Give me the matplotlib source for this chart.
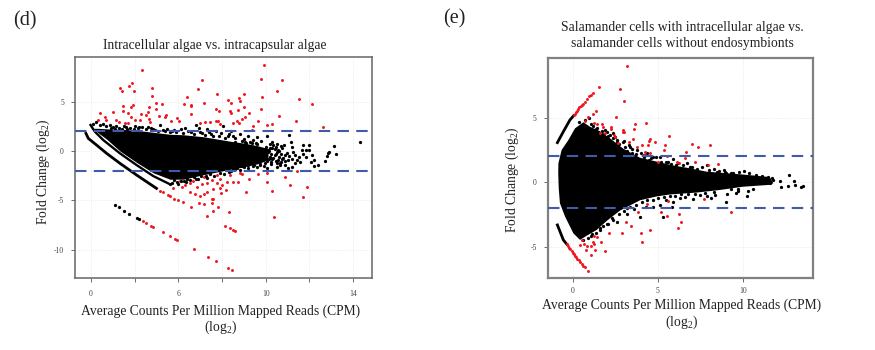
import matplotlib
matplotlib.use('Agg')
import matplotlib.pyplot as plt

plt.rcParams['font.family'] = ['Liberation Serif', 'DejaVu Serif']
plt.rcParams['mathtext.fontset'] = 'custom'
plt.rcParams['mathtext.rm'] = 'Liberation Serif'

# panel d : dense part of the cloud, upper and lower edge
d_core_x = [0.15, 0.33, 0.72, 1.33, 2.09, 2.85, 3.61, 4.22, 5.14, 6.36, 7.0, 7.6, 8.1]
d_core_up = [2.3, 2.3, 2.25, 2.2, 2.1, 1.9, 1.7, 1.65, 1.45, 1.0, 0.8, 0.55, 0.25]
d_core_lo = [2.2, 1.85, 1.2, 0.0, -1.15, -2.2, -2.85, -2.85, -2.4, -1.85, -1.6, -1.3, -0.9]

# panel d : the two curved stripes under the cloud
d_band1_x = [-0.23, -0.12, 0.26, 0.72, 1.33, 2.09, 3.0]
d_band1_y = [1.79, 1.28, 0.60, -0.24, -1.25, -2.43, -3.78]
d_band2_x = [-0.02, 0.18, 0.56, 1.33, 2.09, 2.85, 3.54]
d_band2_y = [2.64, 1.96, 1.12, -0.24, -1.42, -2.53, -3.28]

d_black_x = [0.25, 0.1, 0.4, 0.55, 0.7, 0.85, 1.0, 1.15, 1.3, 1.5, 1.65, 1.8, 2.0, 2.15, 2.35, 2.5, 2.75, 2.95, 3.15, 3.3,
             3.5, 3.7, 3.9, 4.1, 4.3, 4.45, 4.6, 4.8, 4.95, 5.1, 5.3, 5.5, 5.7, 5.85, 6.05, 6.25, 6.4, 6.6, 6.8, 7.0,
             7.2, 7.4, 7.6, 7.8, 8.05, 8.3, 8.5,
             12.33, 11.14, 11.23, 10.9, 10.83, 10.78, 10.69, 10.4, 10.22, 10.22, 10.05, 10.0, 9.96, 9.69, 9.84, 9.64, 10.1, 9.5, 9.34, 9.56,
             9.34, 9.18, 9.03, 9.08, 9.15, 9.18, 8.76, 8.88, 8.63, 8.88, 9.03, 8.7, 8.5, 8.3, 8.1, 8.4, 8.6, 8.2, 8.0, 8.45,
             8.25, 8.05, 8.55, 8.35, 8.15, 7.95, 8.75, 8.5, 8.3, 7.9, 8.05, 8.65, 7.75, 7.6, 7.4, 7.2, 7.0, 6.8, 6.6, 6.4,
             7.55, 7.3, 7.85, 8.2, 8.45, 7.05, 3.8, 3.95, 3.7, 4.1, 4.25, 4.4, 4.55, 4.7, 4.9, 5.05, 5.25, 5.45, 5.65, 5.9, 6.1, 6.3,
             6.6, 6.9, 7.1, 7.35, 7.15, 7.4, 7.6, 7.7, 7.5, 7.25, 7.45, 7.7, 7.85, 8.0, 8.1, 7.65, 7.4, 7.2, 7.55, 7.3,
             7.05, 7.8, 8.0, 8.15, 7.95, 7.75, 7.45, 7.2, 6.9, 6.7, 6.5, 8.25, 8.35, 8.45, 8.55, 8.6, 8.4, 8.2, 8.7, 8.8,
             8.95, 9.05, 8.9, 8.7, 8.5, 8.25, 9.2, 9.45, 9.7, 9.85, 9.25, 8.85,
             3.6, 4.0, 4.35, 4.8, 5.3,
             0.9, 1.1, 1.4, 1.6, 1.95, 2.2, 2.6, 2.85, 3.05, 3.4, 3.6, 3.8, 4.2, 4.7, 5.0, 5.2, 5.4, 5.6, 5.95, 6.15, 6.3, 6.5]
d_black_y = [2.9, 2.7, 2.6, 2.75, 2.5, 2.6, 2.4, 2.55, 2.35, 2.5, 2.25, 2.35, 2.5, 2.3, 2.4, 2.2, 2.3, 2.1, 2.6, 2.15,
             2.25, 2.0, 1.95, 2.2, 2.35, 2.05, 1.9, 2.6, 2.3, 1.8, 2.2, 1.75, 2.0, 1.55, 2.5, 1.5, 2.0, 1.35, 1.7, 1.2,
             1.5, 1.1, 1.4, 1.0, 1.55, 0.95, 0.75,
             0.95, 0.47, -0.30, -0.07, -0.24, -0.47, -1.05, -1.45, -1.56, -0.91, -1.15, 0.10, 0.64, 0.57, 0.10, 0.10, -0.4, -0.57, -0.4, -1.08,
             -1.25, -1.58, -1.75, 1.62, 0.95, 0.37, 0.27, -0.4, -1.42, -1.42, -0.9, 0.55, -0.1, 0.35, 0.15, -0.35, -0.65, -0.6, -0.2, -1.0,
             -1.3, -1.05, 0.1, 0.6, 0.05, 0.2, -0.85, -1.6, -0.85, -1.5, -1.7, -1.2, -1.35, -1.6, -1.55, -1.75, -1.65, -1.9, -1.8, -2.0,
             0.85, 0.95, -0.75, 0.75, 0.4, 0.9, -2.95, -3.1, -3.2, -3.0, -3.05, -2.85, -2.95, -2.6, -2.8, -2.5, -2.55, -2.35, -2.5, -2.2, -2.3, -2.15,
             0.9, 1.05, 0.85, 0.8, 0.5, 0.45, 0.7, 0.35, 0.1, -0.1, -0.35, -0.1, 0.2, 0.45, -0.05, -0.55, -0.8, -0.55, -1.0, -1.2,
             -1.05, -0.85, -0.4, -0.8, -1.25, -1.45, -1.4, -1.45, -1.55, -1.7, -1.85, -0.3, -0.7, -0.25, -0.9, 0.0, 0.25, 0.35, -0.3, -0.7,
             -0.2, -0.55, -1.05, -1.1, -1.25, -1.15, -0.85, -0.95, -0.3, -0.65, -0.1, 0.6,
             -3.3, -3.3, -3.15, -2.85, -2.7,
             2.3, 2.25, 2.2, 2.45, 2.2, 2.45, 2.4, 2.2, 2.05, 2.05, 1.9, 2.15, 1.85, 1.75, 1.95, 1.65, 1.9, 1.55, 1.8, 1.3, 1.7, 1.5]
d_tail_x = [1.10, 1.30, 1.51, 1.76, 2.09, 2.18]
d_tail_y = [-5.44, -5.68, -6.05, -6.35, -6.79, -6.86]

d_red_x = [2.32, 7.92, 7.79, 8.72, 5.10, 1.89, 1.76, 1.34, 1.44, 1.98, 2.79, 2.79, 4.92, 8.53, 5.79, 6.99, 4.40, 4.27, 4.56, 4.56,
           5.19, 6.26, 6.40, 6.76, 6.82, 7.82, 9.51, 10.11, 1.48, 1.82, 1.94, 2.64, 2.96, 3.25, 2.96, 2.63, 5.73, 5.88, 6.37, 6.43,
           6.72, 7.02, 7.76, 0.41, 1.02, 1.45, 1.71, 1.83, 2.29, 2.52, 0.64, 0.32, 0.69, 1.16, 1.30, 1.56, 1.71, 2.02, 2.24, 2.66,
           2.70, 3.11, 3.39, 3.44, 3.65, 3.96, 4.05, 4.56, 4.99, 5.22, 5.45, 5.73, 5.83, 5.91, 6.52, 6.67, 6.76, 7.21, 6.90, 7.05,
           7.63, 8.05, 8.27, 8.60, 9.39, 10.64, 7.40, 7.36,
           2.37, 2.52, 2.75, 2.82, 3.30, 3.62, 3.83, 3.95, 4.73, 5.36, 5.71, 6.27, 6.44, 5.33, 6.32, 5.60, 6.12, 6.35, 6.52, 6.60,
           8.38, 8.29, 9.13, 9.71, 9.88, 7.08, 4.58, 4.20, 4.0, 4.96, 5.15, 5.83, 5.53, 5.60, 5.53, 3.16, 3.31, 3.51, 3.62, 3.80,
           3.77, 4.15, 4.31, 4.53, 4.69, 4.84, 5.07, 5.30, 5.53, 5.76, 5.91, 5.98, 6.21, 6.37, 6.52, 6.75, 7.21, 4.53, 4.76, 4.99,
           5.18, 5.30, 5.60, 5.94, 5.91, 6.18, 4.08, 4.38, 5.15, 5.76, 6.82, 6.90, 7.66, 8.05, 8.05, 8.89, 9.42]
d_red_y = [8.21, 8.68, 7.33, 7.16, 7.20, 6.89, 6.59, 6.35, 6.11, 6.11, 6.42, 5.57, 6.25, 6.11, 5.78, 5.78, 5.44, 4.73, 4.66, 4.53,
           4.83, 5.17, 4.90, 5.34, 5.07, 5.44, 5.30, 4.76, 4.56, 4.49, 4.66, 4.49, 4.83, 4.80, 4.26, 3.99, 4.22, 4.05, 4.02, 3.89,
           4.12, 4.43, 4.22, 3.89, 3.95, 4.05, 3.82, 3.48, 3.75, 3.68, 3.41, 3.14, 3.14, 3.14, 2.97, 2.80, 2.80, 3.14, 3.14, 3.21,
           2.97, 3.55, 3.48, 3.65, 3.07, 3.38, 3.07, 3.72, 2.87, 2.91, 2.91, 3.07, 3.07, 2.74, 2.80, 3.07, 2.80, 3.82, 3.21, 3.41,
           3.07, 2.64, 2.74, 3.58, 3.07, 2.47, 2.53, 2.13,
           -7.13, -7.30, -7.57, -7.64, -8.24, -8.61, -8.89, -9.02, -9.93, -10.71, -11.12, -11.82, -12.0, -6.62, -6.22, -6.05, -7.57, -7.80, -8.04, -8.11,
           -6.72, -4.02, -3.48, -4.66, -3.68, -4.19, -5.71, -5.20, -4.97, -5.24, -5.41, -5.64, -4.90, -4.90, -5.30, -4.02, -4.16, -4.46, -4.53, -4.83,
           -3.78, -3.62, -3.45, -3.21, -3.04, -3.62, -3.34, -3.21, -2.94, -3.21, -2.87, -3.45, -3.11, -2.43, -3.11, -3.11, -2.87, -4.12, -4.36, -4.56,
           -4.36, -4.12, -3.89, -4.22, -3.78, -3.95, -3.0, -2.78, -2.6, -2.43, -2.26, -2.33, -2.33, -2.2, -3.11, -2.6, -2.03]

# panel e : outline of the solid black cloud, clockwise from the left
e_cloud_x = [-0.84, -0.65, -0.25, 0.14, 0.63, 1.02, 1.61, 2.2, 2.98, 3.96, 4.94, 5.92, 6.9, 7.88, 10.0, 11.6, 11.8,
             11.6, 10.0, 8.66, 7.3, 5.72, 4.94, 3.96, 2.78, 2.0, 1.41, 0.82, 0.43, 0.04, -0.45, -0.75, -0.82, -0.85]
e_cloud_y = [1.47, 2.5, 3.28, 4.18, 4.65, 4.3, 3.95, 3.4, 2.6, 1.9, 1.6, 1.3, 1.08, 0.82, 0.6, 0.4, -0.08,
             -0.2, -0.35, -0.6, -0.8, -0.95, -1.1, -1.4, -2.2, -3.0, -3.7, -4.15, -4.47, -3.96, -2.66, -1.63, -0.5, 0.7]

e_up_x = [-0.9, -0.55, -0.16, 0.05]
e_up_y = [3.07, 3.92, 4.83, 5.15]
e_lo_x = [-0.9, -0.55, -0.35]
e_lo_y = [-3.31, -4.47, -4.8]

e_black_x = [12.2, 12.75, 13.04, 13.08, 12.65, 12.24, 13.41, 13.57, 10.24, 9.02, 9.75, 8.12, 11.12, 11.8, 11.5, 11.7, 11.31, 11.6,
             3.96, 2.59, 5.33, 4.75, 5.14, 5.92, 5.82, 6.61, 7.49, 10.08, 9.45, 8.63, 8.96, 7.88, 7.6, 6.71, 5.92, 5.14, 4.75, 3.76,
             3.37, 2.94, 2.39, 2.0, 1.41, 0.98, 4.4, 3.3, 3.0, 2.5, 1.9, 2.2, 2.6, 3.5, 4.2, 4.5, 5.5, 6.2, 6.9, 8.3, 8.9, 9.3, 9.8,
             10.4, 10.8, 10.6, 10.3, 9.6, 9.1, 8.4, 7.9, 7.1, 6.3, 5.5, 4.3, 3.6, 3.2, 2.4, 2.0, 1.6, 1.1,
             0.4, 0.75, 1.05, 1.2, 1.35, 1.7, 1.85, 2.1, 2.35, 2.6, 2.75, 3.1, 3.2, 3.5, 3.7, 4.0, 4.2, 4.6, 4.9, 5.2, 5.6, 5.8, 6.1, 6.5, 7.0, 7.3, 8.0, 8.5, 9.0,
             0.6, 0.9, 1.15, 1.35, 1.6, 1.8, 2.1, 2.3, 2.7, 3.0, 3.2, 3.4, 3.7, 4.1, 4.4, 4.7, 5.0, 5.4, 5.7, 6.0, 6.4, 6.8, 7.2, 7.8, 8.3, 9.3, 9.7]
e_black_y = [0.1, 0.54, 0.13, -0.21, -0.29, -0.34, -0.39, -0.26, -1.04, -1.56, -0.65, -1.24, 0.49, 0.18, 0.43, 0.3, -0.08, -0.03,
             -2.66, -3.05, -2.66, -1.89, -1.76, -1.5, -1.89, -1.11, -0.98, 0.9, 0.75, 0.9, 0.82, 1.34, 1.15, 1.47, 1.78, 1.93, 1.99, 2.5,
             2.76, 3.15, 3.79, 3.92, 4.18, 4.96, 2.3, 2.9, 3.2, 3.5, 4.05, 3.7, 3.3, 2.6, 2.1, 1.75, 1.6, 1.5, 1.2, 1.05, 0.95, 0.7, 0.8,
             0.75, 0.55, -0.5, -0.65, -0.8, -0.95, -1.0, -1.1, -1.3, -1.25, -1.4, -1.9, -2.1, -2.5, -2.9, -3.2, -3.7, -4.2,
             4.7, 4.85, 4.5, 4.35, 4.1, 4.0, 3.75, 3.6, 3.45, 3.1, 2.95, 2.75, 2.45, 2.3, 2.15, 2.25, 1.95, 1.85, 1.95, 1.6, 1.55, 1.45, 1.35, 1.3, 1.2, 1.05, 0.95, 0.8, 0.75,
             -4.45, -4.3, -4.05, -3.95, -3.55, -3.4, -3.2, -2.8, -2.5, -2.2, -2.0, -1.9, -1.75, -1.55, -1.4, -1.35, -1.2, -1.15, -1.05, -1.1, -0.95, -0.95, -0.9, -0.8, -0.75, -0.55, -0.5]

e_red_x = [3.22, 1.57, 2.80, 3.04, 1.37, 1.22, 0.92, 2.55, 0.73, 1.27, 1.41, 1.75, 1.80, 2.27, 2.25, 4.29, 3.65, 3.63, 2.96, 2.94,
           3.02, 1.61, 1.9, 2.41, 2.49, 5.65, 4.55, 4.49, 3.53, 3.33, 4.84, 2.67, 4.10, 4.43, 3.78, 5.45, 5.39, 7.04, 7.39, 8.1,
           6.65, 4.25, 4.55, 4.22, 5.53, 6.61, 6.12, 6.24, 7.18, 7.98, 8.53, 5.04,
           9.31, 7.75, 4.35, 5.63, 3.86, 5.2, 5.57, 6.27, 6.39, 6.18, 3.14, 3.43, 2.16, 2.9, 4.02, 4.53, 4.1, 1.65, 1.92, 1.31,
           1.08, 0.76, 0.82, 1.06, 0.43, 0.67, 1.25, 1.45, 1.27, 0.57, 1.22,
           0.05, 0.12, 0.2, 0.27, 0.33, 0.4, 0.47, 0.55, 0.63, 0.72, 0.82, 0.95, 1.05, 1.18,
           -0.35, -0.28, -0.2, -0.13, -0.05, 0.02, 0.08, 0.15, 0.22, 0.28, 0.35, 0.43, 0.52, 0.62, 0.72, 0.88]
e_red_y = [9.02, 7.36, 7.21, 6.33, 5.53, 5.3, 5.03, 5.06, 4.75, 4.57, 4.52, 4.52, 4.26, 4.31, 4.13, 4.57, 4.49, 4.11, 4.05, 3.87,
           3.9, 3.85, 3.85, 3.67, 3.54, 3.58, 3.35, 3.22, 3.35, 3.15, 3.15, 3.02, 2.86, 2.89, 2.76, 2.86, 2.47, 2.94, 2.71, 2.86,
           2.36, 2.37, 2.3, 2.11, 2.06, 1.86, 1.6, 1.47, 1.55, 1.34, 1.41, 1.55,
           -2.28, -1.29, -1.71, -1.45, -2.3, -2.33, -2.59, -2.43, -3.08, -3.54, -3.1, -3.36, -3.93, -3.93, -3.96, -3.72, -4.6, -4.65, -5.33, -5.25,
           -5.61, -5.25, -4.94, -4.94, -4.86, -4.78, -4.78, -4.21, -4.14, -4.47, -4.6,
           5.2, 5.32, 5.45, 5.55, 5.65, 5.8, 5.9, 5.98, 6.05, 6.25, 6.45, 6.65, 6.8, 6.9,
           -4.8, -4.95, -5.1, -5.2, -5.35, -5.5, -5.6, -5.7, -5.8, -5.95, -6.05, -6.2, -6.35, -6.5, -6.6, -6.85]

d_xticks = [0, 2, 4, 6, 8, 10, 12]
d_xlabels = ['0', '', '6', '', '10', '', '14']
d_yticks = [5, 0, -5, -10]
e_xticks = [0, 5, 10]
e_yticks = [5, 0, -5]
cutoff = [2, -2]

W, H = 875.0, 350.0


def panel(left, right, top, bottom, xlim, ylim, xticks, xlabels, yticks, xpad, frame, lw):
    ax = fig.add_axes([left / W, 1 - bottom / H, (right - left) / W, (bottom - top) / H])
    ax.set_xlim(xlim)
    ax.set_ylim(ylim)
    ax.set_xticks(xticks)
    ax.set_xticklabels(xlabels)
    ax.set_yticks(yticks)
    ax.set_yticklabels([str(v) for v in yticks])
    ax.grid(True, color='#e6e6e6', lw=0.6, ls=':', zorder=0)
    ax.set_axisbelow(True)
    ax.tick_params(axis='x', labelsize=5.5, length=3, width=0.6, color='#555555', labelcolor='#444444', pad=xpad)
    ax.tick_params(axis='y', labelsize=5.5, length=3, width=0.6, color='#555555', labelcolor='#444444', pad=5)
    for s in ax.spines.values():
        s.set_color(frame)
        s.set_linewidth(lw)
    return ax


def dashes(ax):
    for c in cutoff:
        ax.axhline(c, color='#3f5ba9', lw=1.5, dashes=(5.5, 3.5), zorder=6)


fig = plt.figure(figsize=(8.75, 3.5), dpi=100)
DOT = 5.5

# (d)
ax = panel(75, 372, 57, 277.5, (-0.73, 12.86), (-12.8, 9.52), d_xticks, d_xlabels, d_yticks, 6, '#666666', 1.1)
ax.fill_between(d_core_x, d_core_lo, d_core_up, color='black', lw=0, zorder=3)
ax.plot(d_band1_x, d_band1_y, color='black', lw=2.0, zorder=3)
ax.plot(d_band2_x, d_band2_y, color='black', lw=1.7, zorder=3)
ax.scatter(d_black_x, d_black_y, s=DOT, c='black', linewidths=0, zorder=4)
ax.scatter(d_tail_x, d_tail_y, s=DOT, c='black', linewidths=0, zorder=4)
ax.scatter(d_red_x, d_red_y, s=4.5, c='#f0141e', linewidths=0, zorder=2)
dashes(ax)

# (e)
ax = panel(547.7, 812.7, 58, 277.7, (-1.47, 14.12), (-7.4, 9.63), e_xticks, ['0', '5', '10'], e_yticks, 3.5, '#808080', 1.6)
ax.fill(e_cloud_x, e_cloud_y, color='black', lw=0, zorder=3)
ax.plot(e_up_x, e_up_y, color='black', lw=2.0, zorder=3)
ax.plot(e_lo_x, e_lo_y, color='black', lw=2.0, zorder=3)
ax.scatter(e_black_x, e_black_y, s=DOT, c='black', linewidths=0, zorder=4)
ax.scatter(e_red_x, e_red_y, s=4.5, c='#f0141e', linewidths=0, zorder=5)
dashes(ax)

c = '#222222'
fig.text(13 / W, 1 - 21 / H, '(d)', fontsize=14.5, color=c, va='center')
fig.text(443 / W, 1 - 19 / H, '(e)', fontsize=14.5, color=c, va='center')
fig.text(214.5 / W, 1 - 45 / H, 'Intracellular algae vs. intracapsular algae', fontsize=9.75, color=c, ha='center', va='center')
fig.text(682 / W, 1 - 27 / H, 'Salamander cells with intracellular algae vs.', fontsize=9.8, color=c, ha='center', va='center')
fig.text(682 / W, 1 - 44 / H, 'salamander cells without endosymbionts', fontsize=9.8, color=c, ha='center', va='center')
fig.text(221 / W, 1 - 311 / H, 'Average Counts Per Million Mapped Reads (CPM)', fontsize=9.8, color=c, ha='center', va='center')
fig.text(221 / W, 1 - 327 / H, '(log$_2$)', fontsize=9.8, color=c, ha='center', va='center')
fig.text(682 / W, 1 - 305 / H, 'Average Counts Per Million Mapped Reads (CPM)', fontsize=9.8, color=c, ha='center', va='center')
fig.text(682 / W, 1 - 322 / H, '(log$_2$)', fontsize=9.8, color=c, ha='center', va='center')
fig.text(43 / W, 1 - 171.5 / H, 'Fold Change (log$_2$)', fontsize=9.8, color=c, rotation=90, ha='center', va='center')
fig.text(512 / W, 1 - 180 / H, 'Fold Change (log$_2$)', fontsize=9.8, color=c, rotation=90, ha='center', va='center')

fig.savefig('out.png', dpi=100)
